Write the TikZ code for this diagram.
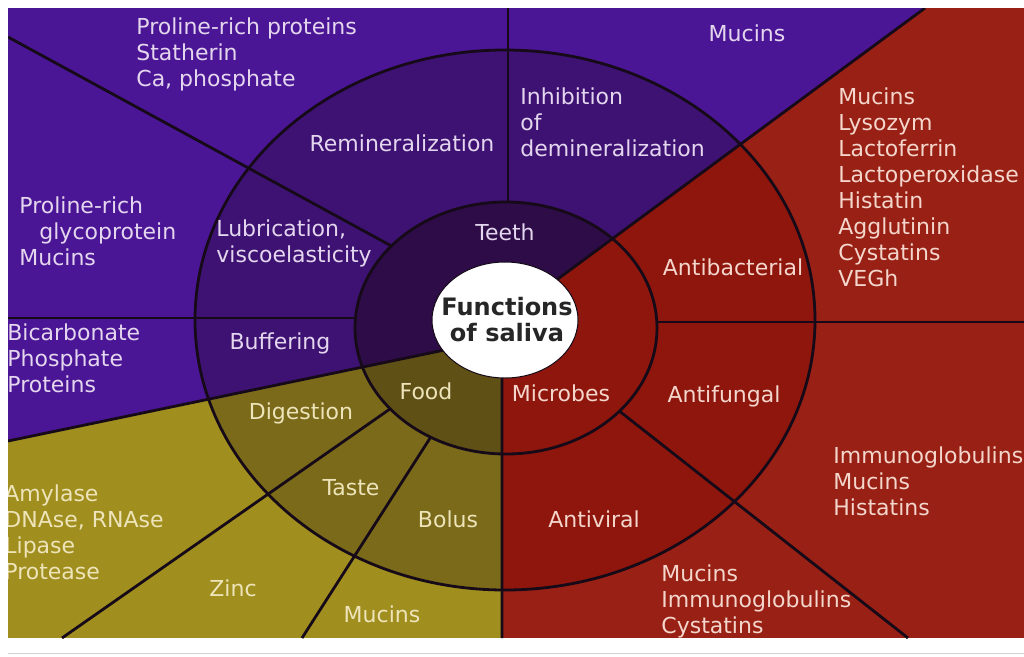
\documentclass[tikz,border=0pt]{standalone}
\usepackage{fontspec}
\setmainfont{DejaVu Sans}
\definecolor{pOut}{RGB}{75,22,150}
\definecolor{pMid}{RGB}{62,18,115}
\definecolor{pIn}{RGB}{45,12,72}
\definecolor{rOut}{RGB}{152,32,20}
\definecolor{rMid}{RGB}{142,22,12}
\definecolor{yOut}{RGB}{160,142,30}
\definecolor{yMid}{RGB}{122,106,26}
\definecolor{yIn}{RGB}{95,80,22}
\definecolor{tP}{RGB}{228,214,238}
\definecolor{tR}{RGB}{244,214,204}
\definecolor{tY}{RGB}{238,228,186}
\definecolor{rim}{RGB}{22,10,24}

\begin{document}
\begin{tikzpicture}[x=1pt, y=-1pt, line width=2.8pt,
  txt/.style={inner sep=0pt, font=\fontsize{22}{26}\selectfont},
  lst/.style={txt, anchor=west, align=left}]
  \useasboundingbox (0,0) rectangle (1024,656);
  \coordinate (c) at (505,320);
  \coordinate (ci) at (506,328);
  \draw[gray!35, line width=1pt] (8,653) -- (1024,653);
  \begin{scope}
    \clip (8,8) rectangle (1024,638);
    \begin{scope}
      \clip (8,8) -- (925,8) -- (505,318) -- (502,338) -- (8,441) -- cycle;
      \fill[pOut] (8,8) rectangle (1024,638);
      \fill[pMid] (c) ellipse [x radius=310pt, y radius=270pt];
      \fill[pIn] (ci) ellipse [x radius=151pt, y radius=126pt];
    \end{scope}
    \begin{scope}
      \clip (925,8) -- (1024,8) -- (1024,638) -- (502,638) -- (502,338) -- (505,318) -- cycle;
      \fill[rOut] (8,8) rectangle (1024,638);
      \fill[rMid] (c) ellipse [x radius=310pt, y radius=270pt];
    \end{scope}
    \begin{scope}
      \clip (502,338) -- (502,638) -- (8,638) -- (8,441) -- cycle;
      \fill[yOut] (8,8) rectangle (1024,638);
      \fill[yMid] (c) ellipse [x radius=310pt, y radius=270pt];
      \fill[yIn] (ci) ellipse [x radius=151pt, y radius=126pt];
    \end{scope}
    \begin{scope}[rim, even odd rule]
      \clip (0,0) rectangle (1024,656) (ci) ellipse [x radius=151pt, y radius=126pt];
      \draw (8,37) -- (430,267);
      \draw (508,8) -- (508,260);
      \draw (8,318) -- (420,318);
      \draw (62,638) -- (420,388);
      \draw (302,638) -- (450,407);
      \draw (1024,322) -- (600,322);
      \draw (908,638) -- (590,388);
    \end{scope}
    \draw[rim] (8,441) -- (502,338) -- (502,638);
    \draw[rim] (502,338) -- (505,318) -- (925,8);
    \draw[rim] (c) ellipse [x radius=310pt, y radius=270pt];
    \draw[rim] (ci) ellipse [x radius=151pt, y radius=126pt];
    \draw[rim, fill=white, line width=1pt] (c) ellipse [x radius=73pt, y radius=58pt];

    \node[lst, text=tP] (prp) at (135,54) {Proline-rich proteins\\Statherin\\Ca, phosphate};
    \node[txt, text=tP] (mucT) at (747,33) {Mucins};
    \node[lst, text=tP] (prg) at (18,231) {Proline-rich\\\hspace*{20pt}glycoprotein\\Mucins};
    \node[lst, text=tP] (bic) at (6,358) {Bicarbonate\\Phosphate\\Proteins};
    \node[txt, text=tP] (remin) at (402,143) {Remineralization};
    \node[lst, text=tP] (inhib) at (519,122) {Inhibition\\of\\demineralization};
    \node[lst, text=tP] (lubr) at (215,243) {Lubrication,\\viscoelasticity};
    \node[txt, text=tP] (buff) at (280,343) {Buffering};
    \node[txt, text=tP] (teeth) at (505,232) {Teeth};

    \node[lst, text=tR] (bact) at (837,187) {Mucins\\Lysozym\\Lactoferrin\\Lactoperoxidase\\Histatin\\Agglutinin\\Cystatins\\VEGh};
    \node[lst, text=tR] (fung) at (832,481) {Immunoglobulins\\Mucins\\Histatins};
    \node[lst, text=tR] (vir) at (660,601) {Mucins\\Immunoglobulins\\Cystatins};
    \node[txt, text=tR] (antib) at (733,267) {Antibacterial};
    \node[txt, text=tR] (antif) at (724,396) {Antifungal};
    \node[txt, text=tR] (antiv) at (594,519) {Antiviral};
    \node[txt, text=tR] (micr) at (561,393) {Microbes};

    \node[lst, text=tY] (enz) at (3,532) {Amylase\\DNAse, RNAse\\Lipase\\Protease};
    \node[txt, text=tY] (zinc) at (233,588) {Zinc};
    \node[txt, text=tY] (mucB) at (382,614) {Mucins};
    \node[txt, text=tY] (dig) at (301,413) {Digestion};
    \node[txt, text=tY] (taste) at (351,488) {Taste};
    \node[txt, text=tY] (bolus) at (448,519) {Bolus};
    \node[txt, text=tY] (food) at (426,391) {Food};
  \end{scope}
  \node[inner sep=0pt, align=center, text=black!85, font=\bfseries\fontsize{24}{26}\selectfont] (func) at (507,320) {Functions\\of saliva};
\end{tikzpicture}
\end{document}
